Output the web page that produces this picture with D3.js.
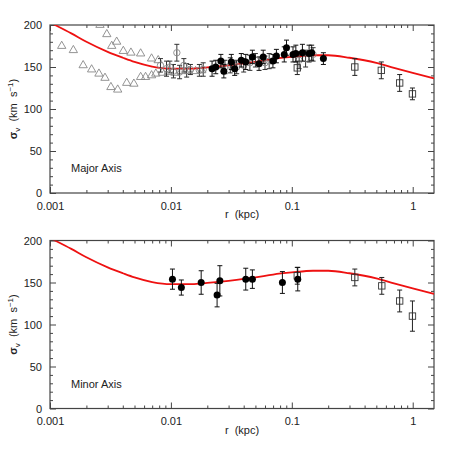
<!DOCTYPE html>
<html lang="en">
<head>
<meta charset="UTF-8">
<title>Velocity dispersion profile</title>
<script src="https://d3js.org/d3.v7.min.js"></script>
<style>
    body { margin: 0; background: #fff; }
    svg { font-family: "Liberation Sans", Arial, sans-serif; }
    .tick text { font-size: 11px; fill: #222; }
    .axis path, .axis line { stroke: #444; }
    .panel-label { font-size: 11px; fill: #222; }
    .axis-title { font-size: 11px; fill: #222; white-space: pre; }
</style>
</head>
<body>
<svg id="chart" width="458" height="458"></svg>
<script>
// model curve (same in both panels)
const modelR = [0.001, 0.0011, 0.0015, 0.002, 0.003, 0.004, 0.005, 0.007, 0.01, 0.015, 0.02, 0.03, 0.05, 0.07, 0.1, 0.15, 0.2, 0.3, 0.5, 0.7, 1.0, 1.5];
const modelV = [203, 200, 190, 180, 168, 161, 156, 150.5, 148, 148, 149.5, 152, 156, 159.5, 162, 164, 164, 161, 155, 149, 143, 136.5];

// major axis: open triangles (no errors)
const majTriR = [0.00125, 0.00156, 0.00188, 0.00221, 0.00254, 0.00285, 0.00319, 0.00363, 0.00431, 0.00494, 0.00562, 0.00617, 0.00692, 0.0075,
                 0.00259, 0.00295, 0.00324, 0.00356, 0.00404, 0.00467, 0.00562, 0.00692, 0.00785,
                 0.0085, 0.0095, 0.0108, 0.0122, 0.014, 0.016, 0.018];
const majTriV = [175, 170, 152, 147, 142, 137, 126, 123, 131, 130, 138, 138, 140, 142,
                 200, 189, 175, 180, 169, 167, 166, 160, 158,
                 143, 144, 143, 145, 145, 145, 146];

// major axis: open grey circles with errors
const majCircR = [0.0082, 0.0092, 0.0098, 0.0105, 0.0112, 0.0118, 0.0128, 0.0135, 0.0145, 0.0172, 0.0185, 0.028, 0.031, 0.035, 0.04, 0.045, 0.05, 0.06, 0.065, 0.115, 0.13, 0.15];
const majCircV = [152, 148, 150, 145, 167, 144, 152, 146, 147, 146, 147, 150, 152, 150, 152, 155, 158, 155, 157, 158, 160, 165];
const majCircE = [8, 9, 7, 8, 10, 8, 8, 8, 6, 7, 8, 8, 9, 8, 8, 9, 8, 8, 9, 10, 10, 8];

// major axis: filled circles
const majDotR = [0.0219, 0.0235, 0.0259, 0.0274, 0.0316, 0.0337, 0.0382, 0.0416, 0.0472, 0.0536, 0.058, 0.0698, 0.0746, 0.0866, 0.0904, 0.1023, 0.108, 0.1224, 0.139, 0.146, 0.1825];
const majDotV = [148, 150, 157, 145, 156, 148, 158, 156, 162, 154, 162, 157, 163, 165, 173, 165, 166, 167, 166, 167, 160];
const majDotE = [9, 8, 8, 8, 9, 8, 8, 9, 8, 8, 8, 8, 8, 9, 9, 9, 10, 10, 10, 9, 7];

// major axis: open squares
const majSqR = [0.111, 0.332, 0.55, 0.78, 0.995];
const majSqV = [149, 150, 146, 131, 118];
const majSqE = [8, 10, 10, 10, 7];

// minor axis: filled circles
const minDotR = [0.0103, 0.0122, 0.0178, 0.0241, 0.0254, 0.0416, 0.0472, 0.0836, 0.112];
const minDotV = [154, 144, 150, 135, 152, 154, 154, 150, 154];
const minDotE = [12, 9, 14, 14, 18, 13, 11, 13, 14];

// minor axis: open squares
const minSqR = [0.111, 0.332, 0.555, 0.78, 0.995];
const minSqV = [158, 156, 146, 128, 110];
const minSqE = [10, 10, 10, 13, 18];

const xTicks = [0.001, 0.01, 0.1, 1];
const yTicks = [0, 50, 100, 150, 200];

const svg = d3.select("#chart");
const left = 50, width = 384, height = 168;

const x = d3.scaleLog().domain([0.001, 1.5]).range([0, width]);
const y = d3.scaleLinear().domain([0, 200]).range([height, 0]);

// minor tick positions
const xMinor = [];
[0.001, 0.01, 0.1, 1].forEach(d => { for (let k = 2; k <= 9; k++) { if (d * k <= 1.5) xMinor.push(d * k); } });
const yMinor = d3.range(0, 201, 10).filter(v => v % 50 !== 0);

function drawPanel(top, label, sets) {
    const g = svg.append("g").attr("transform", `translate(${left},${top})`);

    // frame
    g.append("rect").attr("width", width).attr("height", height)
        .attr("fill", "none").attr("stroke", "#444").attr("stroke-width", 1.2);

    // axes with inward ticks
    const fmt = d => (d >= 1 ? d3.format("d")(d) : String(d));
    g.append("g").attr("class", "axis").attr("transform", `translate(0,${height})`)
        .call(d3.axisBottom(x).tickValues(xTicks).tickFormat(fmt).tickSize(-6).tickPadding(9))
        .call(a => a.select(".domain").remove());
    g.append("g").attr("class", "axis").attr("transform", `translate(0,${height})`)
        .call(d3.axisBottom(x).tickValues(xMinor).tickFormat("").tickSize(-3))
        .call(a => a.select(".domain").remove());
    g.append("g").attr("class", "axis")
        .call(d3.axisTop(x).tickValues(xTicks).tickFormat("").tickSize(-6))
        .call(a => a.select(".domain").remove());
    g.append("g").attr("class", "axis")
        .call(d3.axisTop(x).tickValues(xMinor).tickFormat("").tickSize(-3))
        .call(a => a.select(".domain").remove());

    g.append("g").attr("class", "axis")
        .call(d3.axisLeft(y).tickValues(yTicks).tickSize(-6).tickPadding(8))
        .call(a => a.select(".domain").remove());
    g.append("g").attr("class", "axis")
        .call(d3.axisLeft(y).tickValues(yMinor).tickFormat("").tickSize(-3))
        .call(a => a.select(".domain").remove());
    g.append("g").attr("class", "axis").attr("transform", `translate(${width},0)`)
        .call(d3.axisRight(y).tickValues(yTicks).tickFormat("").tickSize(-6))
        .call(a => a.select(".domain").remove());
    g.append("g").attr("class", "axis").attr("transform", `translate(${width},0)`)
        .call(d3.axisRight(y).tickValues(yMinor).tickFormat("").tickSize(-3))
        .call(a => a.select(".domain").remove());

    const clip = "clip" + top;
    g.append("clipPath").attr("id", clip).append("rect").attr("width", width).attr("height", height);
    const plot = g.append("g").attr("clip-path", `url(#${clip})`);

    // triangles
    if (sets.tri) {
        const tri = d3.symbol().type(d3.symbolTriangle).size(30);
        plot.selectAll(".tri").data(sets.tri.r.map((r, i) => ({ r, v: sets.tri.v[i] })))
            .join("path").attr("d", tri)
            .attr("transform", d => `translate(${x(d.r)},${y(d.v)})`)
            .attr("fill", "none").attr("stroke", "#888").attr("stroke-width", 0.9);
    }

    function errorBars(s, color) {
        const data = s.r.map((r, i) => ({ r, v: s.v[i], e: s.e[i] }));
        const eg = plot.append("g").attr("stroke", color).attr("stroke-width", 1);
        eg.selectAll(".eb").data(data).join("line")
            .attr("x1", d => x(d.r)).attr("x2", d => x(d.r))
            .attr("y1", d => y(d.v + d.e)).attr("y2", d => y(d.v - d.e));
        eg.selectAll(".ct").data(data).join("line")
            .attr("x1", d => x(d.r) - 2.5).attr("x2", d => x(d.r) + 2.5)
            .attr("y1", d => y(d.v + d.e)).attr("y2", d => y(d.v + d.e));
        eg.selectAll(".cb").data(data).join("line")
            .attr("x1", d => x(d.r) - 2.5).attr("x2", d => x(d.r) + 2.5)
            .attr("y1", d => y(d.v - d.e)).attr("y2", d => y(d.v - d.e));
        return data;
    }

    // model curve
    const line = d3.line().x((d, i) => x(modelR[i])).y(d => y(d)).curve(d3.curveMonotoneX);
    plot.append("path").datum(modelV).attr("d", line)
        .attr("fill", "none").attr("stroke", "#ee1111").attr("stroke-width", 1.8);

    if (sets.circ) {
        const data = errorBars(sets.circ, "#333");
        plot.selectAll(".oc").data(data).join("circle")
            .attr("cx", d => x(d.r)).attr("cy", d => y(d.v)).attr("r", 3.2)
            .attr("fill", "none").attr("stroke", "#888").attr("stroke-width", 0.9);
    }
    if (sets.sq) {
        const data = errorBars(sets.sq, "#222");
        plot.selectAll(".sq").data(data).join("rect")
            .attr("x", d => x(d.r) - 3.2).attr("y", d => y(d.v) - 3.2)
            .attr("width", 6.4).attr("height", 6.4)
            .attr("fill", "none").attr("stroke", "#333").attr("stroke-width", 0.9);
    }
    if (sets.dot) {
        const data = errorBars(sets.dot, "#111");
        plot.selectAll(".dot").data(data).join("circle")
            .attr("cx", d => x(d.r)).attr("cy", d => y(d.v)).attr("r", 3.5)
            .attr("fill", "#000");
    }

    g.append("text").attr("class", "panel-label")
        .attr("x", 21).attr("y", height - 21).text(label);

    // axis titles
    g.append("text").attr("class", "axis-title")
        .attr("x", width / 2).attr("y", height + 25).attr("text-anchor", "middle")
        .text("r  (kpc)");

    const yt = g.append("text").attr("class", "axis-title")
        .attr("transform", `translate(-33,${height / 2}) rotate(-90)`)
        .attr("text-anchor", "middle");
    yt.append("tspan").attr("font-weight", "bold").text("σ");
    yt.append("tspan").attr("font-size", "8px").attr("dy", 3).text("v");
    yt.append("tspan").attr("dy", -3).text("  (km  s");
    yt.append("tspan").attr("font-size", "8px").attr("dy", -4).text("−1");
    yt.append("tspan").attr("dy", 4).text(")");
}

drawPanel(25, "Major Axis", {
    tri: { r: majTriR, v: majTriV },
    circ: { r: majCircR, v: majCircV, e: majCircE },
    sq: { r: majSqR, v: majSqV, e: majSqE },
    dot: { r: majDotR, v: majDotV, e: majDotE }
});
drawPanel(240.5, "Minor Axis", {
    sq: { r: minSqR, v: minSqV, e: minSqE },
    dot: { r: minDotR, v: minDotV, e: minDotE }
});
</script>
</body>
</html>
